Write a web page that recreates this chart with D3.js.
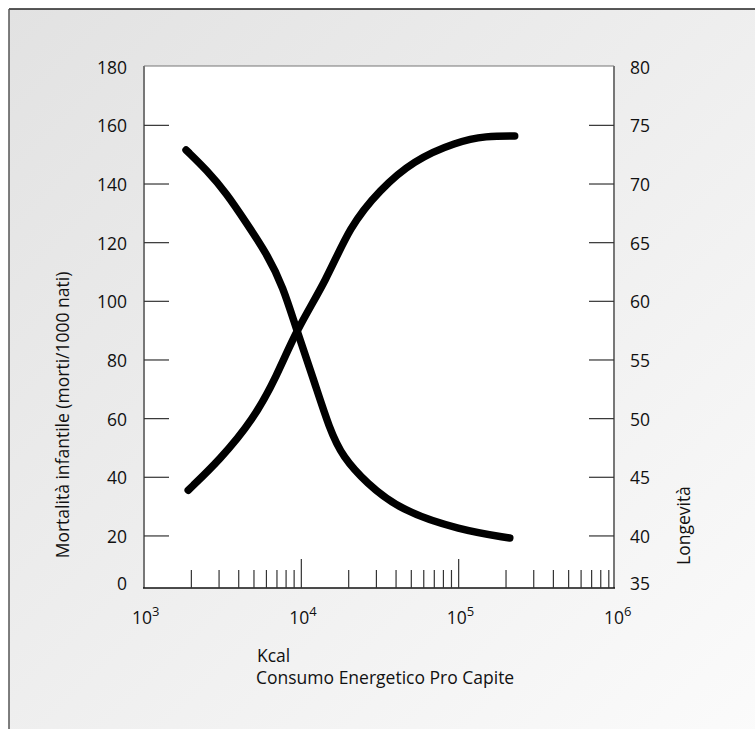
<!DOCTYPE html>
<html>
<head>
<meta charset="utf-8">
<script src="https://cdn.jsdelivr.net/npm/d3@7"></script>
<style>
  body { margin: 0; background: #fff; }
  text { font-family: "Open Sans", "Noto Sans", sans-serif; fill: #111; }
</style>
</head>
<body>
<div id="chart"></div>
<script>
// data
const mortKcal = [1850, 2500, 3350, 4490, 6010, 7660, 9330, 11830, 15170, 18370, 25940, 42360, 101900, 211300];
const mortVal  = [151.6, 144.8, 136.8, 126.6, 116.4, 105.0, 90.2, 74.2, 56.1, 46.9, 38.0, 28.8, 22.0, 19.3];
const longKcal = [1910, 3040, 4940, 6970, 9330, 14450, 20320, 31480, 51290, 96600, 150000, 227000];
const longVal  = [43.9, 46.5, 49.9, 53.6, 57.6, 61.8, 66.4, 69.5, 72.0, 73.6, 74.1, 74.1];
const leftTicks  = [0, 20, 40, 60, 80, 100, 120, 140, 160, 180];
const rightTicks = [35, 40, 45, 50, 55, 60, 65, 70, 75, 80];
const decades = [3, 4, 5, 6];

const W = 755, H = 729;
const plot = { left: 144, top: 66, right: 614, bottom: 588 };

let svg = d3.select("#chart").append("svg").attr("width", W).attr("height", H);

// background gradient + frame
let defs = svg.append("defs");
let grad = defs.append("linearGradient").attr("id", "bg")
  .attr("x1", "0%").attr("y1", "0%").attr("x2", "100%").attr("y2", "100%");
grad.append("stop").attr("offset", "0%").attr("stop-color", "#e2e2e2");
grad.append("stop").attr("offset", "100%").attr("stop-color", "#fbfbfb");

svg.append("rect").attr("x", 9).attr("y", 9).attr("width", W).attr("height", H)
  .attr("fill", "url(#bg)");
svg.append("line").attr("x1", 9).attr("y1", 9).attr("x2", W).attr("y2", 9)
  .attr("stroke", "#222").attr("stroke-width", 1.5);
svg.append("line").attr("x1", 9).attr("y1", 9).attr("x2", 9).attr("y2", H)
  .attr("stroke", "#555").attr("stroke-width", 1.5);

// plot area
svg.append("rect")
  .attr("x", plot.left).attr("y", plot.top)
  .attr("width", plot.right - plot.left).attr("height", plot.bottom - plot.top)
  .attr("fill", "#fff");

// scales
let x = d3.scaleLog().domain([1e3, 1e6]).range([144, 616]);
let yL = d3.scaleLinear().domain([0, 180]).range([594.6, 66.7]);
let yR = d3.scaleLinear().domain([35, 80]).range([594.6, 66.7]);

// borders
svg.append("line").attr("x1", plot.left).attr("y1", plot.top).attr("x2", plot.right).attr("y2", plot.top)
  .attr("stroke", "#777").attr("stroke-width", 1.2);
svg.append("line").attr("x1", plot.left).attr("y1", plot.top).attr("x2", plot.left).attr("y2", plot.bottom)
  .attr("stroke", "#777").attr("stroke-width", 2);
svg.append("line").attr("x1", plot.right).attr("y1", plot.top).attr("x2", plot.right).attr("y2", plot.bottom)
  .attr("stroke", "#777").attr("stroke-width", 2);
svg.append("line").attr("x1", plot.left - 1).attr("y1", plot.bottom).attr("x2", plot.right + 1).attr("y2", plot.bottom)
  .attr("stroke", "#111").attr("stroke-width", 1.6);

// left axis
leftTicks.forEach((t) => {
  let yy = yL(t);
  if (t > 0 && t < 180) {
    svg.append("line").attr("x1", plot.left).attr("x2", plot.left + 25)
      .attr("y1", yy).attr("y2", yy).attr("stroke", "#333").attr("stroke-width", 1.2);
  }
  svg.append("text")
    .attr("x", 127).attr("y", Math.min(yy, 583))
    .attr("text-anchor", "end").attr("dominant-baseline", "central")
    .attr("font-size", 17.5).text(t);
});

// right axis
rightTicks.forEach((t) => {
  let yy = yR(t);
  if (t > 35 && t < 80) {
    svg.append("line").attr("x1", plot.right - 25).attr("x2", plot.right)
      .attr("y1", yy).attr("y2", yy).attr("stroke", "#333").attr("stroke-width", 1.2);
  }
  svg.append("text")
    .attr("x", 630).attr("y", Math.min(yy, 583))
    .attr("text-anchor", "start").attr("dominant-baseline", "central")
    .attr("font-size", 17.5).text(t);
});

// x axis ticks (log)
decades.forEach((d) => {
  let p = Math.pow(10, d);
  if (d < 6) {
    for (let m = 2; m <= 9; m++) {
      let xx = x(m * p);
      svg.append("line").attr("x1", xx).attr("x2", xx)
        .attr("y1", plot.bottom).attr("y2", plot.bottom - 18)
        .attr("stroke", "#333").attr("stroke-width", 1.2);
    }
  }
  if (d > 3 && d < 6) {
    svg.append("line").attr("x1", x(p)).attr("x2", x(p))
      .attr("y1", plot.bottom).attr("y2", plot.bottom - 29)
      .attr("stroke", "#333").attr("stroke-width", 1.2);
  }
  let lab = svg.append("text")
    .attr("x", x(p) - 12).attr("y", 624)
    .attr("font-size", 17.5);
  lab.append("tspan").text("10");
  lab.append("tspan").attr("font-size", 13).attr("dy", -8).text(d);
});

// curves
let line = d3.line()
  .x((d) => x(d[0]))
  .curve(d3.curveBasis);

svg.append("path")
  .datum(d3.zip(mortKcal, mortVal))
  .attr("d", line.y((d) => yL(d[1])))
  .attr("fill", "none").attr("stroke", "#000")
  .attr("stroke-width", 7.5).attr("stroke-linecap", "round").attr("stroke-linejoin", "round");

svg.append("path")
  .datum(d3.zip(longKcal, longVal))
  .attr("d", line.y((d) => yR(d[1])))
  .attr("fill", "none").attr("stroke", "#000")
  .attr("stroke-width", 7.5).attr("stroke-linecap", "round").attr("stroke-linejoin", "round");

// axis titles
svg.append("text")
  .attr("transform", "translate(69,415) rotate(-90)")
  .attr("text-anchor", "middle").attr("font-size", 17.5)
  .text("Mortalità infantile (morti/1000 nati)");

svg.append("text")
  .attr("transform", "translate(690,565) rotate(-90)")
  .attr("text-anchor", "start").attr("font-size", 17.5)
  .text("Longevità");

svg.append("text").attr("x", 257).attr("y", 662).attr("font-size", 17.5).text("Kcal");
svg.append("text").attr("x", 256).attr("y", 684).attr("font-size", 17.5).text("Consumo Energetico Pro Capite");
</script>
</body>
</html>
